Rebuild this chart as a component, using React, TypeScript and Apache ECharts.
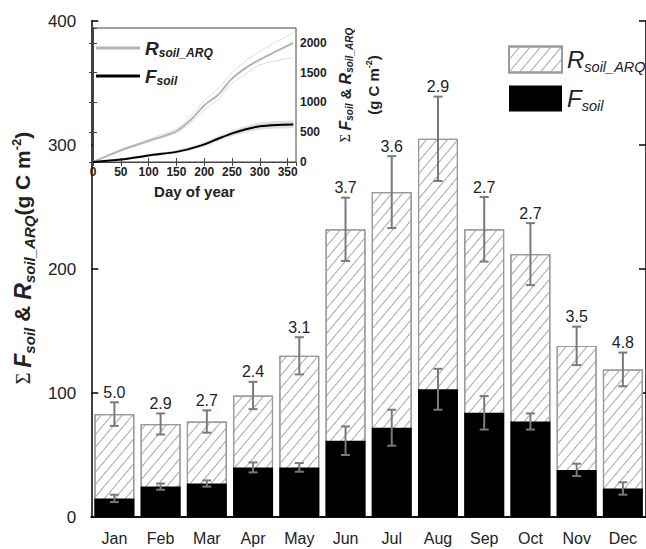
import React, { useEffect, useRef } from 'react';
import * as echarts from 'echarts';

// ---- Main chart data ----
const months = ['Jan', 'Feb', 'Mar', 'Apr', 'May', 'Jun', 'Jul', 'Aug', 'Sep', 'Oct', 'Nov', 'Dec'];
const rsoilArq = [83, 75, 77, 98, 130, 232, 262, 305, 232, 212, 138, 119];
const rsoilErr = [9.5, 8.5, 9, 11, 15, 25.5, 29, 34, 26, 25, 15.5, 13.6];
const fsoil = [15, 24.5, 27, 40, 40, 61.5, 72, 103, 84, 77, 38, 23];
const fsoilErr = [3, 2.5, 2.5, 4, 3.5, 11.5, 14.5, 16.5, 13.5, 6.5, 5, 5];
const ratioLabels = ['5.0', '2.9', '2.7', '2.4', '3.1', '3.7', '3.6', '2.9', '2.7', '2.7', '3.5', '4.8'];

// ---- Inset (cumulative) data ----
const insetDays = [0, 50, 100, 150, 175, 200, 225, 250, 275, 300, 330, 360];
const insetR = [0, 195, 355, 520, 700, 950, 1130, 1400, 1580, 1720, 1860, 2000];
const insetRHigh = [0, 210, 380, 560, 760, 1030, 1230, 1500, 1700, 1860, 2020, 2170];
const insetRLow = [0, 185, 340, 490, 650, 880, 1050, 1320, 1480, 1630, 1700, 1760];
const insetF = [0, 40, 110, 170, 225, 295, 390, 480, 550, 600, 623, 630];
const insetFHigh = [0, 50, 125, 190, 250, 325, 425, 520, 600, 655, 680, 690];
const insetFLow = [0, 32, 95, 150, 200, 265, 355, 440, 505, 550, 570, 575];

const FONT = '"Liberation Sans", Arial, sans-serif';
const TXT = '#222';

export default function App() {
  const ref = useRef<HTMLDivElement>(null);

  useEffect(() => {
    if (!ref.current) return;
    const chart = echarts.init(ref.current, undefined, { renderer: 'svg' });

    const pair = (arr: number[]) => insetDays.map((d, i) => [d, arr[i]]);

    const hatch = {
      symbol: 'rect',
      symbolSize: 1,
      dashArrayX: [1, 0],
      dashArrayY: [1, 7],
      rotation: -Math.PI / 3.6,
      color: '#a8a8a8',
    };

    const rErrData = months.map((_, i) => [i, rsoilArq[i] - rsoilErr[i], rsoilArq[i] + rsoilErr[i]]);
    const fErrData = months.map((_, i) => [i, fsoil[i] - fsoilErr[i], fsoil[i] + fsoilErr[i]]);

    const errRender = (params: any, api: any) => {
      const x = api.value(0);
      const lo = api.value(1);
      const hi = api.value(2);
      const pHi = api.coord([x, hi]);
      const pLo = api.coord([x, lo]);
      const half = 4.5;
      const st = { stroke: '#7a7a7a', lineWidth: 2 };
      const children: any[] = [
        { type: 'line', shape: { x1: pHi[0], y1: pHi[1], x2: pLo[0], y2: pLo[1] }, style: st },
        { type: 'line', shape: { x1: pHi[0] - half, y1: pHi[1], x2: pHi[0] + half, y2: pHi[1] }, style: st },
        { type: 'line', shape: { x1: pLo[0] - half, y1: pLo[1], x2: pLo[0] + half, y2: pLo[1] }, style: st },
      ];
      if (params.seriesName === 'rErr') {
        children.push({
          type: 'text',
          style: {
            text: ratioLabels[params.dataIndex],
            x: pHi[0],
            y: pHi[1] - 10,
            align: 'center',
            verticalAlign: 'middle',
            fontSize: 16,
            fontFamily: FONT,
            fill: TXT,
          },
        });
      }
      return { type: 'group', children };
    };

    // F band in inset as polygon segments between consecutive days
    const bandData = insetDays.map((d, i) => [d, insetFLow[i], insetFHigh[i]]);
    const bandRender = (params: any, api: any) => {
      const i = params.dataIndex;
      if (i >= insetDays.length - 1) return null;
      const a = api.coord([insetDays[i], insetFLow[i]]);
      const b = api.coord([insetDays[i + 1], insetFLow[i + 1]]);
      const c = api.coord([insetDays[i + 1], insetFHigh[i + 1]]);
      const d = api.coord([insetDays[i], insetFHigh[i]]);
      return {
        type: 'polygon',
        shape: { points: [a, b, c, d] },
        style: { fill: '#dedede', stroke: '#dedede', lineWidth: 0.8 },
      };
    };

    const mainLegendRich = {
      m: { fontSize: 24, fontStyle: 'italic', fontFamily: FONT, color: TXT, lineHeight: 26 },
      s: { fontSize: 14.5, fontStyle: 'italic', fontFamily: FONT, color: TXT, padding: [14, 0, 0, 0], lineHeight: 26 },
    };
    const insetLegendRich = {
      m: { fontSize: 19, fontStyle: 'italic', fontWeight: 'bold', fontFamily: FONT, color: TXT, lineHeight: 20 },
      s: { fontSize: 12, fontStyle: 'italic', fontWeight: 'bold', fontFamily: FONT, color: TXT, padding: [10, 0, 0, 0], lineHeight: 20 },
    };

    const noComma = (v: number) => String(v);

    const option: any = {
      animation: false,
      backgroundColor: '#fff',
      textStyle: { fontFamily: FONT },
      legend: [
        {
          data: ['R_soil_ARQ', 'F_soil'],
          orient: 'vertical',
          left: 508,
          top: 45,
          padding: 0,
          itemWidth: 53,
          itemHeight: 26,
          itemGap: 10,
          icon: 'rect',
          selectedMode: false,
          z: 10,
          formatter: (n: string) => (n === 'R_soil_ARQ' ? '{m|R}{s|soil_ARQ}' : '{m|F}{s|soil}'),
          textStyle: { rich: mainLegendRich },
        },
        {
          data: ['insetR', 'insetF'],
          orient: 'vertical',
          left: 96,
          top: 37,
          padding: 0,
          itemWidth: 44,
          itemHeight: 3,
          itemGap: 6,
          icon: 'rect',
          selectedMode: false,
          z: 10,
          formatter: (n: string) => (n === 'insetR' ? '{m|R}{s|soil_ARQ}' : '{m|F}{s|soil}'),
          textStyle: { rich: insetLegendRich },
        },
      ],
      grid: [
        { left: 86, top: 21, width: 563, height: 496, containLabel: false },
        {
          left: 93, top: 28, width: 203, height: 134, containLabel: false,
          show: true, backgroundColor: '#fff', borderColor: '#444', borderWidth: 1, z: 5,
        },
      ],
      xAxis: [
        {
          type: 'category', data: months, gridIndex: 0, position: 'bottom',
          axisLine: { lineStyle: { color: '#000', width: 1.5 } },
          axisTick: { alignWithLabel: true, inside: false, length: 7, lineStyle: { color: '#000', width: 1.5 } },
          axisLabel: { fontSize: 16, color: TXT, margin: 13, fontFamily: FONT },
        },
        {
          type: 'category', data: months, gridIndex: 0, position: 'top',
          axisLine: { lineStyle: { color: '#000', width: 1.5 } },
          axisTick: { show: false }, axisLabel: { show: false },
        },
        {
          type: 'value', gridIndex: 1, min: 0, max: 365, interval: 50, position: 'bottom',
          name: 'Day of year', nameLocation: 'middle', nameGap: 22,
          nameTextStyle: { fontSize: 15, fontWeight: 'bold', color: TXT, fontFamily: FONT },
          axisLine: { lineStyle: { color: '#444', width: 1 } },
          axisTick: { inside: true, length: 4, lineStyle: { color: '#444' } },
          axisLabel: { fontSize: 12, fontWeight: 'bold', color: TXT, margin: 4, showMaxLabel: false, fontFamily: FONT, formatter: noComma },
          splitLine: { show: false }, z: 6,
        },
        {
          type: 'value', gridIndex: 1, min: 0, max: 365, interval: 50, position: 'top',
          axisLine: { lineStyle: { color: '#444', width: 1 } },
          axisTick: { inside: true, length: 4, lineStyle: { color: '#444' } },
          axisLabel: { show: false }, splitLine: { show: false }, z: 6,
        },
      ],
      yAxis: [
        {
          type: 'value', gridIndex: 0, min: 0, max: 400, interval: 100, position: 'left',
          name: '{sig|Σ }{b|F}{sub|soil}{a| & }{b|R}{sub|soil_ARQ}{p|(g C m}{sup|-2}{p|)}',
          nameLocation: 'middle', nameRotate: 90, nameGap: 46,
          nameTextStyle: {
            padding: [0, 0, 0, 22],
            rich: {
              sig: { fontSize: 20, fontFamily: '"Liberation Serif", serif', color: TXT, lineHeight: 28 },
              b: { fontSize: 23, fontWeight: 'bold', fontStyle: 'italic', fontFamily: FONT, color: TXT, lineHeight: 28 },
              a: { fontSize: 22, fontWeight: 'bold', fontFamily: FONT, color: TXT, lineHeight: 28 },
              sub: { fontSize: 15, fontWeight: 'bold', fontStyle: 'italic', fontFamily: FONT, color: TXT, padding: [14, 0, 0, 0], lineHeight: 28 },
              p: { fontSize: 21, fontWeight: 'bold', fontFamily: FONT, color: TXT, lineHeight: 28 },
              sup: { fontSize: 13, fontWeight: 'bold', fontFamily: FONT, color: TXT, padding: [0, 0, 12, 0], lineHeight: 28 },
            },
          },
          axisLine: { show: true, lineStyle: { color: '#000', width: 1.5 } },
          axisTick: { show: true, inside: true, length: 7, lineStyle: { color: '#000', width: 1.5 } },
          axisLabel: { fontSize: 17, color: TXT, margin: 15, fontFamily: FONT },
          splitLine: { show: false },
        },
        {
          type: 'value', gridIndex: 0, min: 0, max: 400, interval: 100, position: 'right',
          axisLine: { show: true, lineStyle: { color: '#000', width: 1.5 } },
          axisTick: { show: true, inside: true, length: 7, lineStyle: { color: '#000', width: 1.5 } },
          axisLabel: { show: false }, splitLine: { show: false },
        },
        {
          type: 'value', gridIndex: 1, min: 0, max: 2250, interval: 500, position: 'right',
          name: '{s|Σ }{b|F}{sub|soil}{a| & }{b|R}{sub|soil_ARQ}\n{a|(g C m}{sup|-2}{a|)}',
          nameLocation: 'middle', nameRotate: 90, nameGap: 35,
          nameTextStyle: {
            padding: [0, 0, 0, 20],
            rich: {
              s: { fontSize: 14, fontFamily: '"Liberation Serif", serif', color: TXT, lineHeight: 28 },
              b: { fontSize: 16, fontWeight: 'bold', fontStyle: 'italic', fontFamily: FONT, color: TXT, lineHeight: 28 },
              a: { fontSize: 15, fontWeight: 'bold', fontFamily: FONT, color: TXT, lineHeight: 28 },
              sub: { fontSize: 10, fontWeight: 'bold', fontStyle: 'italic', fontFamily: FONT, color: TXT, padding: [9, 0, 0, 0], lineHeight: 28 },
              sup: { fontSize: 9, fontWeight: 'bold', fontFamily: FONT, color: TXT, padding: [0, 0, 8, 0], lineHeight: 28 },
            },
          },
          axisLine: { show: true, lineStyle: { color: '#444', width: 1 } },
          axisTick: { show: true, inside: true, length: 4, lineStyle: { color: '#444' } },
          axisLabel: { fontSize: 12, fontWeight: 'bold', color: TXT, margin: 4, showMaxLabel: false, fontFamily: FONT, formatter: noComma },
          splitLine: { show: false }, z: 6,
        },
        {
          type: 'value', gridIndex: 1, min: 0, max: 2250, interval: 500, position: 'left',
          axisLine: { show: true, lineStyle: { color: '#444', width: 1 } },
          axisTick: { show: true, inside: true, length: 4, lineStyle: { color: '#444' } },
          axisLabel: { show: false }, splitLine: { show: false }, z: 6,
        },
      ],
      series: [
        {
          name: 'R_soil_ARQ', type: 'bar', xAxisIndex: 0, yAxisIndex: 0,
          data: rsoilArq, barWidth: 40,
          itemStyle: { color: '#fff', borderColor: '#9a9a9a', borderWidth: 1.2, decal: hatch },
        },
        {
          name: 'F_soil', type: 'bar', xAxisIndex: 0, yAxisIndex: 0,
          data: fsoil, barWidth: 40, barGap: '-100%',
          itemStyle: { color: '#000' },
        },
        {
          name: 'rErr', type: 'custom', xAxisIndex: 0, yAxisIndex: 0,
          data: rErrData, renderItem: errRender, z: 4,
        },
        {
          name: 'fErr', type: 'custom', xAxisIndex: 0, yAxisIndex: 0,
          data: fErrData, renderItem: errRender, z: 4,
        },
        // inset: F spread band
        {
          name: 'fBand', type: 'custom', xAxisIndex: 2, yAxisIndex: 2,
          data: bandData, renderItem: bandRender, z: 6,
        },
        // inset: R envelope
        {
          name: 'rLo', type: 'line', xAxisIndex: 2, yAxisIndex: 2, data: pair(insetRLow),
          smooth: 0.3, showSymbol: false, lineStyle: { color: '#dedede', width: 1 }, z: 6,
        },
        {
          name: 'rHi', type: 'line', xAxisIndex: 2, yAxisIndex: 2, data: pair(insetRHigh),
          smooth: 0.3, showSymbol: false, lineStyle: { color: '#dedede', width: 1 }, z: 6,
        },
        {
          name: 'insetR', type: 'line', xAxisIndex: 2, yAxisIndex: 2, data: pair(insetR),
          smooth: 0.3, showSymbol: false, color: '#b4b4b4', lineStyle: { color: '#b4b4b4', width: 2 }, z: 7,
        },
        {
          name: 'insetF', type: 'line', xAxisIndex: 2, yAxisIndex: 2, data: pair(insetF),
          smooth: 0.3, showSymbol: false, color: '#000', lineStyle: { color: '#000', width: 2 }, z: 7,
        },
      ],
    };

    chart.setOption(option);
    return () => chart.dispose();
  }, []);

  return (
    <div
      ref={ref}
      style={{ position: 'fixed', left: 0, top: 0, width: 646, height: 549, background: '#fff' }}
    />
  );
}
